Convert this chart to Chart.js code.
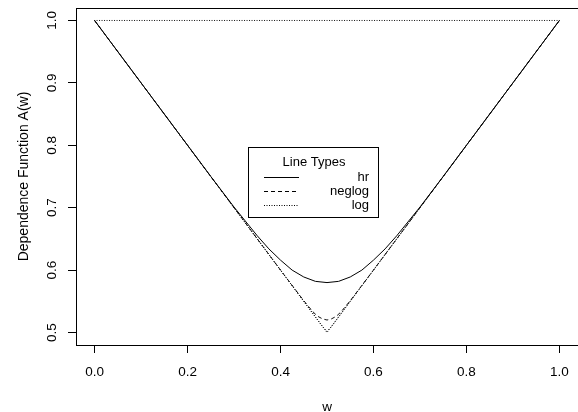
<!DOCTYPE html>
<html><head><meta charset="utf-8">
<script src="https://cdn.jsdelivr.net/npm/chart.js@4.4.1/dist/chart.umd.min.js"></script>
<style>html,body{margin:0;padding:0;background:#fff}canvas{display:block}</style>
</head><body>
<canvas id="c" width="578" height="412"></canvas>
<script>
// ---- data ----
const wHr   = [0, 0.1, 0.2, 0.25, 0.3, 0.35, 0.375, 0.4, 0.425, 0.45, 0.475, 0.5, 0.525, 0.55, 0.575, 0.6, 0.625, 0.65, 0.7, 0.75, 0.8, 0.9, 1];
const aHr   = [1, 0.9, 0.8, 0.750, 0.701, 0.655, 0.634, 0.616, 0.600, 0.589, 0.582, 0.580, 0.582, 0.589, 0.600, 0.616, 0.634, 0.655, 0.701, 0.750, 0.8, 0.9, 1];
const wNeg  = [0, 0.1, 0.2, 0.3, 0.4, 0.45, 0.47, 0.48, 0.49, 0.5, 0.51, 0.52, 0.53, 0.55, 0.6, 0.7, 0.8, 0.9, 1];
const aNeg  = [1, 0.9, 0.8, 0.7, 0.6, 0.551, 0.533, 0.526, 0.522, 0.520, 0.522, 0.526, 0.533, 0.551, 0.6, 0.7, 0.8, 0.9, 1];
const wLog  = [0, 0.25, 0.45, 0.49, 0.5, 0.51, 0.55, 0.75, 1];
const aLog  = [1, 0.75, 0.55, 0.51, 0.502, 0.51, 0.55, 0.75, 1];
const wBnd  = [0, 0.5, 1, 0];
const aBnd  = [1, 0.5, 1, 1];
const xTicks = [0, 0.2, 0.4, 0.6, 0.8, 1.0];
const xTickLabels = ['0.0', '0.2', '0.4', '0.6', '0.8', '1.0'];
const yTicks = [0.5, 0.6, 0.7, 0.8, 0.9, 1.0];
const yTickLabels = ['0.5', '0.6', '0.7', '0.8', '0.9', '1.0'];
const seriesNames = ['hr', 'neglog', 'log'];
const legendTitle = 'Line Types';
const xTitle = 'w';
const yTitle = 'Dependence Function A(w)';

const FONT = 'Liberation Sans, Arial, Helvetica, sans-serif';
const pts = (ws, as) => ws.map((w, i) => ({x: w, y: as[i]}));
const dashes = [[], [4, 3], [1, 1.5]];

const base = {showLine: true, pointRadius: 0, borderWidth: 1, fill: false, tension: 0};
const datasets = [
  Object.assign({}, base, {label: seriesNames[0], data: pts(wHr, aHr), borderColor: '#000', borderDash: dashes[0]}),
  Object.assign({}, base, {label: seriesNames[1], data: pts(wNeg, aNeg), borderColor: '#111', borderDash: dashes[1]}),
  Object.assign({}, base, {label: seriesNames[2], data: pts(wLog, aLog), borderColor: '#111', borderDash: dashes[2]}),
  Object.assign({}, base, {label: 'bounds', data: pts(wBnd, aBnd), borderColor: '#111', borderDash: dashes[2]})
];

const boxLegend = {
  id: 'boxLegend',
  afterDraw(chart) {
    const ctx = chart.ctx, a = chart.chartArea;
    ctx.save();
    ctx.strokeStyle = '#000';
    ctx.lineWidth = 1;
    ctx.setLineDash([]);
    ctx.strokeRect(Math.round(a.left) + 0.5, Math.round(a.top) + 0.5, Math.round(a.right - a.left), Math.round(a.bottom - a.top));
    // legend
    const xs = chart.scales.x, ys = chart.scales.y;
    const L = Math.round(xs.getPixelForValue(0.331)), R = Math.round(xs.getPixelForValue(0.609));
    const T = Math.round(ys.getPixelForValue(0.797)), B = Math.round(ys.getPixelForValue(0.685));
    ctx.fillStyle = '#fff';
    ctx.fillRect(L, T, R - L, B - T);
    ctx.strokeRect(L + 0.5, T + 0.5, R - L, B - T);
    ctx.fillStyle = '#000';
    ctx.font = '13px ' + FONT;
    ctx.textBaseline = 'middle';
    ctx.textAlign = 'center';
    ctx.fillText(legendTitle, (L + R) / 2 + 1, T + 15);
    seriesNames.forEach((n, i) => {
      const y = T + 30 + 14 * i;
      ctx.beginPath();
      ctx.setLineDash(dashes[i]);
      ctx.strokeStyle = '#000';
      ctx.moveTo(L + 16, y + 0.5);
      ctx.lineTo(L + 51, y + 0.5);
      ctx.stroke();
      ctx.setLineDash([]);
      ctx.textAlign = 'right';
      ctx.fillText(n, L + 121, y);
    });
    ctx.restore();
  }
};

new Chart(document.getElementById('c'), {
  type: 'scatter',
  data: {datasets},
  plugins: [boxLegend],
  options: {
    responsive: false,
    animation: false,
    devicePixelRatio: 1,
    layout: {padding: {top: 8, right: 0, left: 0, bottom: 0}},
    plugins: {legend: {display: false}, tooltip: {enabled: false}},
    scales: {
      x: {
        type: 'linear', min: -0.04, max: 1.04,
        afterBuildTicks: s => { s.ticks = xTicks.map(v => ({value: v})); },
        afterFit: s => { s.height = 67; s.paddingLeft = 0; s.paddingRight = 0; },
        grid: {display: true, drawOnChartArea: false, drawTicks: true, tickLength: 8, color: '#000', lineWidth: 1},
        border: {display: true, color: '#000', width: 1},
        ticks: {
          color: '#000', font: {family: FONT, size: 13.5}, padding: 11, maxRotation: 0, autoSkip: false,
          callback: v => { const i = xTicks.findIndex(t => Math.abs(t - v) < 1e-9); return i >= 0 ? xTickLabels[i] : ''; }
        },
        title: {display: true, text: xTitle, color: '#000', font: {family: FONT, size: 13.5, lineHeight: 1}, padding: {top: -2, bottom: -2}}
      },
      y: {
        type: 'linear', min: 0.48, max: 1.02,
        afterBuildTicks: s => { s.ticks = yTicks.map(v => ({value: v})); },
        afterFit: s => { s.width = 76; s.paddingTop = 0; s.paddingBottom = 0; },
        grid: {display: true, drawOnChartArea: false, drawTicks: true, tickLength: 8, color: '#000', lineWidth: 1},
        border: {display: true, color: '#000', width: 1},
        ticks: {
          color: '#000', font: {family: FONT, size: 13.5}, padding: 6, minRotation: 90, maxRotation: 90, crossAlign: 'center', autoSkip: false,
          callback: v => { const i = yTicks.findIndex(t => Math.abs(t - v) < 1e-9); return i >= 0 ? yTickLabels[i] : ''; }
        },
        title: {display: true, text: yTitle, color: '#000', font: {family: FONT, size: 14, lineHeight: 1}, padding: {top: 17, bottom: 17}}
      }
    }
  }
});
</script>
</body></html>
